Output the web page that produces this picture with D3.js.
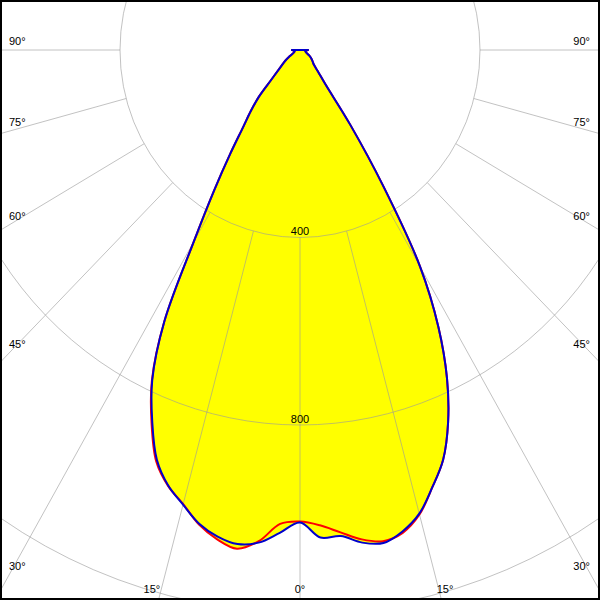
<!DOCTYPE html>
<html><head><meta charset="utf-8">
<script src="https://cdn.jsdelivr.net/npm/d3@7"></script>
<style>html,body{margin:0;padding:0;background:#fff}svg{display:block}</style>
</head><body>
<script>
// gamma angles (deg, negative = left half-plane)
const angles = [-90,-80,-70,-60,-55,-50,-45,-42.5,-40,-37.5,-35,-32.5,-30,-27.5,-25,-22.5,-20,-17.5,-15,-12.5,-10,-7.5,-5,-2.5,0,2.5,5,7.5,10,12.5,15,17.5,20,22.5,25,27.5,30,32.5,35,37.5,40,42.5,45,50,55,60,70,80,90];
// C90-C270 plane (blue)
const blueValues = [18,12,14,26,40,56,92,135,170,208,270,355,472,653,777,858,930,974,1004,1035,1054,1063,1055,1031,1008,1041,1041,1060,1068,1052,1024,978,930,860,773,666,534,345,195,95,68,52,43,36,30,24,14,12,18];
// C0-C180 plane (red)
const redValues = [18,12,14,26,40,56,92,135,170,208,270,355,472,653,779,862,934,975,1003,1037,1060,1073,1052,1012,1006,1015,1033,1053,1064,1055,1026,978,930,860,773,666,534,345,195,95,68,52,43,36,30,24,14,12,18];
const ringValues = [400, 800, 1200];
const ringLabels = ["400", "800"];
const spokeAngles = [-90,-75,-60,-45,-30,-15,0,15,30,45,60,75,90];
const spokeLabels = spokeAngles.map(a => Math.abs(a) + "°");

const W = 600, H = 600, cx = 300, cy = 50;
const rx = d3.scaleLinear().domain([0, 400]).range([0, 180]);
const ry = d3.scaleLinear().domain([0, 400]).range([0, 187.5]);
const rad = d => d * Math.PI / 180;
const pt = (deg, v) => [cx + rx(v) * Math.sin(rad(deg)), cy + ry(v) * Math.cos(rad(deg))];

const svg = d3.select("body").append("svg").attr("width", W).attr("height", H);
svg.append("rect").attr("width", W).attr("height", H).attr("fill", "#fff");

const line = d3.line().curve(d3.curveCatmullRom.alpha(0.5));
const series = [
  {values: redValues, color: "#ff0000"},
  {values: blueValues, color: "#0000cc"}
];
const pathOf = vals => line(angles.map((a, i) => pt(a, vals[i]))) + "Z";

// fills
svg.append("g").selectAll("path").data(series).join("path")
  .attr("d", d => pathOf(d.values)).attr("fill", "#ffff00").attr("stroke", "none");

// grid
const grid = svg.append("g").attr("stroke", "#9a9a9a").attr("stroke-opacity", 0.6).attr("fill", "none").attr("stroke-width", 1);
grid.selectAll("ellipse").data(ringValues).join("ellipse")
  .attr("cx", cx).attr("cy", cy).attr("rx", d => rx(d)).attr("ry", d => ry(d));
grid.selectAll("line").data(spokeAngles).join("line")
  .attr("x1", d => pt(d, 400)[0]).attr("y1", d => pt(d, 400)[1])
  .attr("x2", d => pt(d, 4000)[0]).attr("y2", d => pt(d, 4000)[1]);

// labels
const font = "'Liberation Sans', Arial, sans-serif";
svg.append("g").selectAll("text").data(ringLabels).join("text")
  .attr("x", cx).attr("y", d => cy + ry(+d) - 2.5)
  .attr("text-anchor", "middle").attr("font-family", font).attr("font-size", 11).attr("fill", "#000")
  .text(d => d);

const lab = svg.append("g").attr("font-family", font).attr("font-size", 11).attr("fill", "#000");
spokeAngles.forEach((a, i) => {
  const s = Math.abs(a);
  if (s >= 30) {
    const v = rx.invert(291 / Math.sin(rad(s)));
    const y = cy + ry(v) * Math.cos(rad(s)) - 5.5;
    lab.append("text").attr("x", a < 0 ? 9 : 590).attr("y", y)
      .attr("text-anchor", a < 0 ? "start" : "end").text(spokeLabels[i]);
  } else {
    const x = pt(a, 1200)[0];
    lab.append("text").attr("x", a < 0 ? x : (a > 0 ? x - 3 : x)).attr("y", 593)
      .attr("text-anchor", a < 0 ? "end" : (a > 0 ? "start" : "middle")).text(spokeLabels[i]);
  }
});

// curves
svg.append("g").selectAll("path").data(series).join("path")
  .attr("d", d => pathOf(d.values)).attr("fill", "none")
  .attr("stroke", d => d.color).attr("stroke-width", 2).attr("stroke-linejoin", "round");

// border
svg.append("rect").attr("x", 1).attr("y", 1).attr("width", W - 2).attr("height", H - 2)
  .attr("fill", "none").attr("stroke", "#000").attr("stroke-width", 2);
</script>
</body></html>
